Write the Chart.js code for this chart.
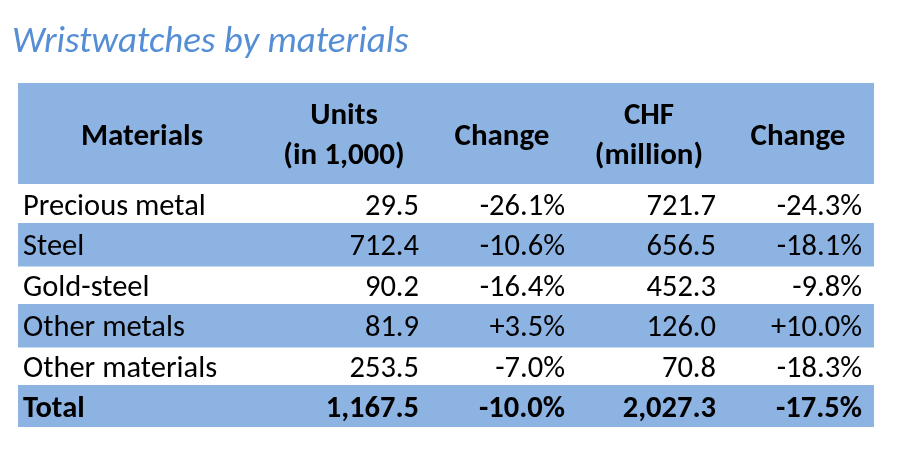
<!DOCTYPE html>
<html>
<head>
<meta charset="utf-8">
<script src="https://cdn.jsdelivr.net/npm/chart.js@4/dist/chart.umd.min.js"></script>
<style>
  body { margin: 0; background: #fff; }
</style>
</head>
<body>
<canvas id="watches-table" width="900" height="454"></canvas>
<script>
// table data
var materials = ["Precious metal", "Steel", "Gold-steel", "Other metals", "Other materials", "Total"];
var units = [29.5, 712.4, 90.2, 81.9, 253.5, 1167.5];
var unitsChange = [-26.1, -10.6, -16.4, 3.5, -7.0, -10.0];
var chf = [721.7, 656.5, 452.3, 126.0, 70.8, 2027.3];
var chfChange = [-24.3, -18.1, -9.8, 10.0, -18.3, -17.5];
var headers = [["Materials"], ["Units", "(in 1,000)"], ["Change"], ["CHF", "(million)"], ["Change"]];
var title = "Wristwatches by materials";

var FONT = "Carlito, Lato, sans-serif";
var BLUE = "#8DB3E2";
var TABLE_W = 856;
// column anchors in x-scale units
var headCenters = [124, 326, 484, 631, 780];
var valueRights = [401, 547, 698, 844];

function num(v) {
  return v.toLocaleString("en-US", { minimumFractionDigits: 1, maximumFractionDigits: 1 });
}
function pct(v) {
  return (v > 0 ? "+" : "") + v.toFixed(1) + "%";
}

var tablePlugin = {
  id: "tableText",
  beforeDatasetsDraw: function (chart) {
    var c = chart.ctx, x = chart.scales.x, area = chart.chartArea;
    // header band
    c.save();
    c.fillStyle = BLUE;
    c.fillRect(x.getPixelForValue(0), 83, x.getPixelForValue(TABLE_W) - x.getPixelForValue(0), area.top - 83);
    c.restore();
  },
  afterDatasetsDraw: function (chart) {
    var c = chart.ctx, x = chart.scales.x, y = chart.scales.y, area = chart.chartArea;
    c.save();
    // title
    c.fillStyle = "#558ED5";
    c.font = "italic 37px " + FONT;
    c.textAlign = "left";
    c.textBaseline = "alphabetic";
    c.fillText(title, 12, 52);

    // header
    c.fillStyle = "#000";
    c.font = "bold 31px " + FONT;
    c.textAlign = "center";
    var mid = (83 + area.top) / 2;
    headers.forEach(function (lines, i) {
      var cx = x.getPixelForValue(headCenters[i]);
      if (lines.length === 1) {
        c.fillText(lines[0], cx, mid + 11);
      } else {
        c.fillText(lines[0], cx, mid - 10);
        c.fillText(lines[1], cx, mid + 30);
      }
    });

    // rows
    materials.forEach(function (m, i) {
      var cy = y.getPixelForValue(i) + 10.5;
      var isTotal = i === materials.length - 1;
      c.font = (isTotal ? "bold " : "") + "30.5px " + FONT;
      c.textAlign = "left";
      c.fillText(m, x.getPixelForValue(5), cy);
      c.textAlign = "right";
      var cells = [num(units[i]), pct(unitsChange[i]), num(chf[i]), pct(chfChange[i])];
      cells.forEach(function (t, k) {
        c.fillText(t, x.getPixelForValue(valueRights[k]), cy);
      });
    });
    c.restore();
  }
};

var ctx = document.getElementById("watches-table").getContext("2d");
var chart = new Chart(ctx, {
  type: "bar",
  data: {
    labels: materials,
    datasets: [{
      // alternating blue bands
      data: materials.map(function (m, i) { return i % 2 ? TABLE_W : null; }),
      backgroundColor: BLUE,
      borderWidth: 0,
      barPercentage: 1.07,
      categoryPercentage: 1
    }]
  },
  options: {
    indexAxis: "y",
    responsive: false,
    animation: false,
    layout: { padding: { left: 18, right: 26, top: 184, bottom: 27 } },
    scales: {
      x: { display: false, min: 0, max: TABLE_W },
      y: { display: false }
    },
    plugins: {
      legend: { display: false },
      tooltip: { enabled: false }
    }
  },
  plugins: [tablePlugin]
});
</script>
</body>
</html>
